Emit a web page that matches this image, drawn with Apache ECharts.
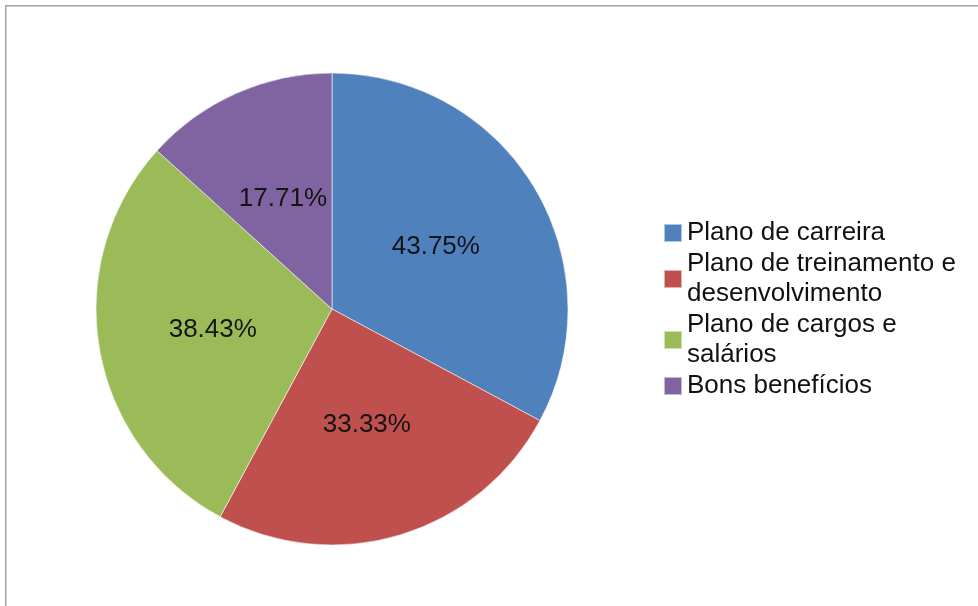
<!DOCTYPE html>
<html>
<head>
<meta charset="utf-8">
<script src="https://cdn.jsdelivr.net/npm/echarts@6/dist/echarts.min.js"></script>
<style>
  html, body { margin: 0; padding: 0; background: #ffffff; }
  #chart { width: 978px; height: 606px; }
</style>
</head>
<body>
<div id="chart"></div>
<script>
// Categories, their share values and the wrapped legend text
const categories = [
  'Plano de carreira',
  'Plano de treinamento e desenvolvimento',
  'Plano de cargos e salários',
  'Bons benefícios'
];
const values = [43.75, 33.33, 38.43, 17.71];
const legendLabels = [
  'Plano de carreira',
  'Plano de treinamento e\ndesenvolvimento',
  'Plano de cargos e\nsalários',
  'Bons benefícios'
];
const sliceColors = ['#4F81BD', '#C0504D', '#9BBB59', '#8064A2'];

const chart = echarts.init(document.getElementById('chart'), null, { renderer: 'canvas' });

const FONT = '"Liberation Sans", Arial, sans-serif';

chart.setOption({
  backgroundColor: '#ffffff',
  animation: false,
  color: sliceColors,
  graphic: [
    {
      type: 'rect',
      shape: { x: 5.75, y: 5.75, width: 1200, height: 1200 },
      style: { fill: 'none', stroke: '#a3a3a3', lineWidth: 1.5 },
      silent: true
    }
  ],
  legend: {
    orient: 'vertical',
    left: 663,
    top: 218,
    padding: 0,
    itemGap: 1,
    itemWidth: 18,
    itemHeight: 18,
    icon: 'rect',
    selectedMode: false,
    data: categories,
    formatter: function (name) {
      return legendLabels[categories.indexOf(name)];
    },
    textStyle: {
      fontFamily: FONT,
      fontSize: 26,
      lineHeight: 30,
      color: '#111111',
      padding: [0, 0, 0, 0]
    }
  },
  series: [
    {
      type: 'pie',
      center: [332, 309],
      radius: 236,
      startAngle: 90,
      clockwise: true,
      avoidLabelOverlap: false,
      itemStyle: {
        borderColor: 'rgba(255,255,255,0.55)',
        borderWidth: 1
      },
      label: {
        show: true,
        position: 'inside',
        fontFamily: FONT,
        fontSize: 26,
        color: '#141414',
        formatter: function (p) {
          return p.value.toFixed(2) + '%';
        }
      },
      labelLine: { show: false },
      emphasis: { disabled: true },
      data: categories.map(function (c, i) {
        return { name: c, value: values[i] };
      })
    }
  ]
});
</script>
</body>
</html>
